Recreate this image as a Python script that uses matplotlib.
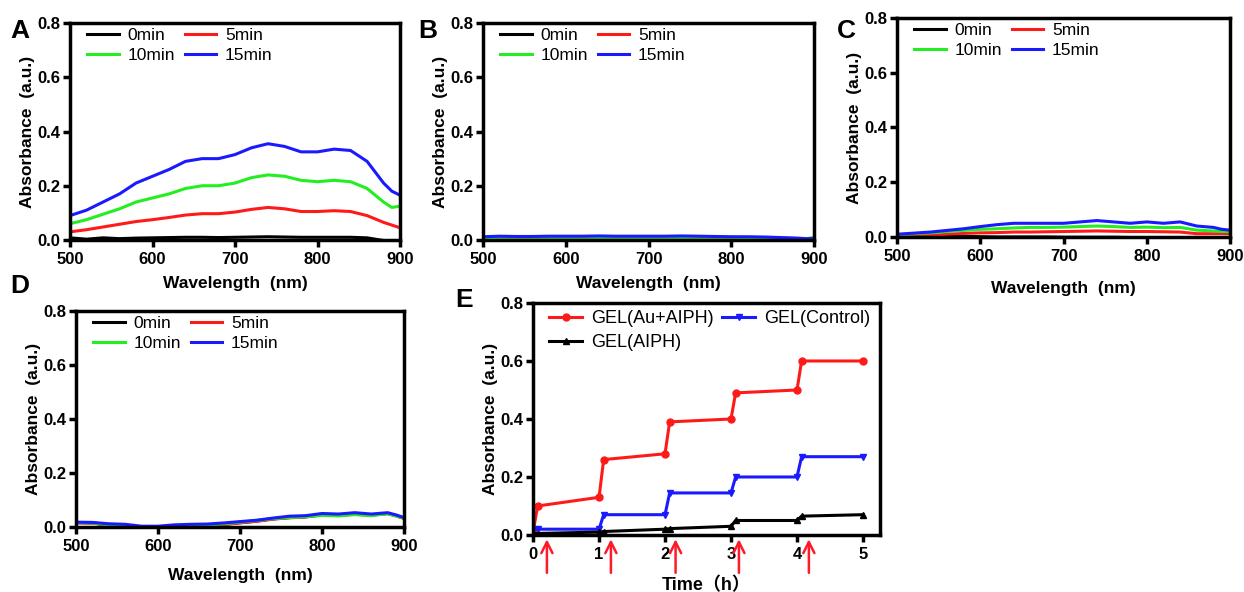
import numpy as np
import matplotlib
matplotlib.use("Agg")
import matplotlib.pyplot as plt

plt.rcParams['font.family'] = ['Liberation Sans', 'Noto Sans CJK SC', 'DejaVu Sans']

wl = [500, 520, 540, 560, 580, 600, 620, 640, 660, 680, 700,
      720, 740, 760, 780, 800, 820, 840, 860, 880, 890, 900]
labels = ['0min', '5min', '10min', '15min']
colors = ['black', '#ff1a1a', '#22ee22', '#1a1aff']

# panel A
a_0 = [0.008, 0.003, 0.008, 0.005, 0.007, 0.008, 0.009, 0.010, 0.010, 0.009, 0.010,
       0.011, 0.012, 0.011, 0.010, 0.010, 0.010, 0.010, 0.008, -0.002, -0.003, -0.003]
a_5 = [0.030, 0.038, 0.048, 0.058, 0.068, 0.075, 0.083, 0.092, 0.097, 0.097, 0.103,
       0.113, 0.120, 0.115, 0.105, 0.105, 0.108, 0.105, 0.090, 0.065, 0.055, 0.045]
a_10 = [0.060, 0.075, 0.095, 0.115, 0.140, 0.155, 0.170, 0.190, 0.200, 0.200, 0.210,
        0.230, 0.240, 0.235, 0.220, 0.215, 0.220, 0.215, 0.190, 0.140, 0.120, 0.125]
a_15 = [0.090, 0.110, 0.140, 0.170, 0.210, 0.235, 0.260, 0.290, 0.300, 0.300, 0.315,
        0.340, 0.355, 0.345, 0.325, 0.325, 0.335, 0.330, 0.290, 0.210, 0.180, 0.165]

# panel B
b_0 = [0.000, 0.000, -0.001, 0.000, 0.000, 0.000, 0.000, 0.000, 0.000, 0.000, 0.000,
       0.000, 0.000, 0.000, 0.000, 0.000, 0.000, 0.000, 0.000, -0.001, -0.002, -0.003]
b_5 = [0.004, 0.006, 0.003, 0.005, 0.005, 0.005, 0.005, 0.005, 0.005, 0.005, 0.005,
       0.005, 0.005, 0.005, 0.005, 0.005, 0.005, 0.004, 0.003, 0.002, 0.000, -0.002]
b_10 = [0.008, 0.010, 0.010, 0.010, 0.010, 0.010, 0.010, 0.010, 0.010, 0.010, 0.010,
        0.010, 0.010, 0.010, 0.010, 0.010, 0.009, 0.008, 0.007, 0.005, 0.004, 0.010]
b_15 = [0.012, 0.014, 0.013, 0.013, 0.014, 0.014, 0.014, 0.015, 0.014, 0.014, 0.014,
        0.014, 0.015, 0.014, 0.013, 0.012, 0.012, 0.011, 0.009, 0.007, 0.005, 0.005]

# panel C
c_0 = [0.003, 0.004, 0.004, 0.003, 0.002, 0.001, 0.000, 0.000, 0.000, 0.000, -0.001,
       -0.001, -0.001, -0.001, -0.002, -0.002, -0.002, -0.002, -0.002, -0.003, -0.003, -0.003]
c_5 = [0.000, 0.003, 0.006, 0.010, 0.013, 0.015, 0.016, 0.018, 0.018, 0.019, 0.020,
       0.021, 0.022, 0.021, 0.020, 0.020, 0.019, 0.018, 0.012, 0.012, 0.012, 0.012]
c_10 = [0.008, 0.012, 0.015, 0.020, 0.024, 0.028, 0.030, 0.033, 0.035, 0.035, 0.036,
        0.038, 0.040, 0.038, 0.035, 0.036, 0.034, 0.035, 0.025, 0.022, 0.020, 0.020]
c_15 = [0.010, 0.014, 0.018, 0.024, 0.030, 0.038, 0.045, 0.050, 0.050, 0.050, 0.050,
        0.055, 0.060, 0.055, 0.050, 0.055, 0.050, 0.055, 0.040, 0.035, 0.028, 0.025]

# panel D
d_0 = [0.016, 0.015, 0.008, 0.004, 0.000, 0.000, 0.003, 0.004, 0.005, 0.010, 0.016,
       0.022, 0.030, 0.035, 0.038, 0.045, 0.043, 0.048, 0.044, 0.050, 0.042, 0.032]
d_5 = [0.016, 0.014, 0.007, 0.003, -0.001, -0.001, 0.002, 0.003, 0.004, 0.009, 0.015,
       0.021, 0.029, 0.034, 0.037, 0.045, 0.043, 0.047, 0.044, 0.050, 0.042, 0.032]
d_10 = [0.017, 0.015, 0.008, 0.004, 0.001, 0.001, 0.004, 0.006, 0.007, 0.012, 0.018,
        0.024, 0.031, 0.035, 0.038, 0.043, 0.041, 0.046, 0.042, 0.049, 0.041, 0.033]
d_15 = [0.018, 0.017, 0.012, 0.010, 0.003, 0.003, 0.008, 0.010, 0.011, 0.015, 0.020,
        0.025, 0.033, 0.040, 0.042, 0.050, 0.048, 0.053, 0.048, 0.053, 0.045, 0.035]

# panel E
t_red = [0, 0.07, 1.0, 1.07, 2.0, 2.07, 3.0, 3.07, 4.0, 4.07, 5.0]
e_red = [0.01, 0.10, 0.13, 0.26, 0.28, 0.39, 0.40, 0.49, 0.50, 0.60, 0.60]
t_blue = [0, 0.07, 1.0, 1.07, 2.0, 2.07, 3.0, 3.07, 4.0, 4.07, 5.0]
e_blue = [0.02, 0.02, 0.02, 0.07, 0.07, 0.145, 0.145, 0.20, 0.20, 0.27, 0.27]
t_black = [0, 1.0, 1.07, 2.0, 2.07, 3.0, 3.07, 4.0, 4.07, 5.0]
e_black = [0.005, 0.01, 0.012, 0.02, 0.022, 0.03, 0.05, 0.05, 0.065, 0.07]
arrow_t = [0.21, 1.18, 2.16, 3.12, 4.18]

fig = plt.figure(figsize=(12.44, 5.92), dpi=100)

boxes = {'A': [0.0563, 0.5946, 0.2653, 0.3665],
         'B': [0.3883, 0.5946, 0.2661, 0.3665],
         'C': [0.7211, 0.5997, 0.2677, 0.3699],
         'D': [0.0611, 0.1098, 0.2637, 0.3649]}
spectra = {'A': [a_0, a_5, a_10, a_15],
           'B': [b_0, b_5, b_10, b_15],
           'C': [c_0, c_5, c_10, c_15],
           'D': [d_0, d_5, d_10, d_15]}
xlab_pad = {'A': 6, 'B': 6, 'C': 12, 'D': 10}


def style(ax):
    for s in ax.spines.values():
        s.set_linewidth(2.5)
    ax.tick_params(width=2.5, length=5, labelsize=12, pad=4)
    ax.tick_params(axis='y', pad=2)
    for lb in ax.get_xticklabels() + ax.get_yticklabels():
        lb.set_fontweight('bold')


for key, box in boxes.items():
    ax = fig.add_axes(box)
    lines = []
    for ys, lab, c in zip(spectra[key], labels, colors):
        ln, = ax.plot(wl, ys, color=c, lw=2.2, label=lab)
        lines.append(ln)
    ax.set_xlim(500, 900)
    ax.set_ylim(0, 0.8)
    ax.set_xticks([500, 600, 700, 800, 900])
    ax.set_yticks([0.0, 0.2, 0.4, 0.6, 0.8])
    ax.yaxis.set_major_formatter(matplotlib.ticker.FormatStrFormatter('%.1f'))
    style(ax)
    ax.set_xlabel('Wavelength  (nm)', fontsize=12.5, fontweight='bold', labelpad=xlab_pad[key])
    ax.set_ylabel('Absorbance  (a.u.)', fontsize=12.5, fontweight='bold', labelpad=2)
    # row-major legend: 0min 5min / 10min 15min
    order = [0, 2, 1, 3]
    ax.legend([lines[i] for i in order], [labels[i] for i in order],
              ncol=2, frameon=False, fontsize=12.5, loc='upper left',
              bbox_to_anchor=(0.005, 1.05), handlelength=1.8, columnspacing=0.6,
              labelspacing=0.3, handletextpad=0.5)

ax = fig.add_axes([0.4285, 0.0963, 0.279, 0.3919])
l1, = ax.plot(t_red, e_red, color='#ff1a1a', lw=2.2, marker='o', ms=5, label='GEL(Au+AIPH)')
l2, = ax.plot(t_blue, e_blue, color='#1a1aff', lw=2.2, marker='v', ms=5, label='GEL(Control)')
l3, = ax.plot(t_black, e_black, color='black', lw=2.2, marker='^', ms=5, label='GEL(AIPH)')
ax.set_xlim(0, 5.26)
ax.set_ylim(0, 0.8)
ax.set_xticks([0, 1, 2, 3, 4, 5])
ax.set_yticks([0.0, 0.2, 0.4, 0.6, 0.8])
ax.yaxis.set_major_formatter(matplotlib.ticker.FormatStrFormatter('%.1f'))
style(ax)
ax.set_xlabel('Time（h）', fontsize=13, fontweight='bold', labelpad=10)
ax.set_ylabel('Absorbance  (a.u.)', fontsize=12.5, fontweight='bold', labelpad=2)
ax.legend([l1, l3, l2], ['GEL(Au+AIPH)', 'GEL(AIPH)', 'GEL(Control)'],
          ncol=2, frameon=False, fontsize=13, loc='upper left',
          bbox_to_anchor=(0.0, 1.04), handlelength=1.8, columnspacing=0.5,
          labelspacing=0.4, handletextpad=0.5)
for t in arrow_t:
    ax.annotate('', xy=(t, -0.005), xytext=(t, -0.14), annotation_clip=False,
                arrowprops=dict(arrowstyle='->', color='#ff1a2a', lw=1.8,
                                mutation_scale=20))

for lab, x, y in [('A', 0.008, 0.935), ('B', 0.336, 0.935), ('C', 0.673, 0.935),
                  ('D', 0.008, 0.505), ('E', 0.366, 0.482)]:
    fig.text(x, y, lab, fontsize=19, fontweight='bold')

fig.savefig('out.png', dpi=100)
